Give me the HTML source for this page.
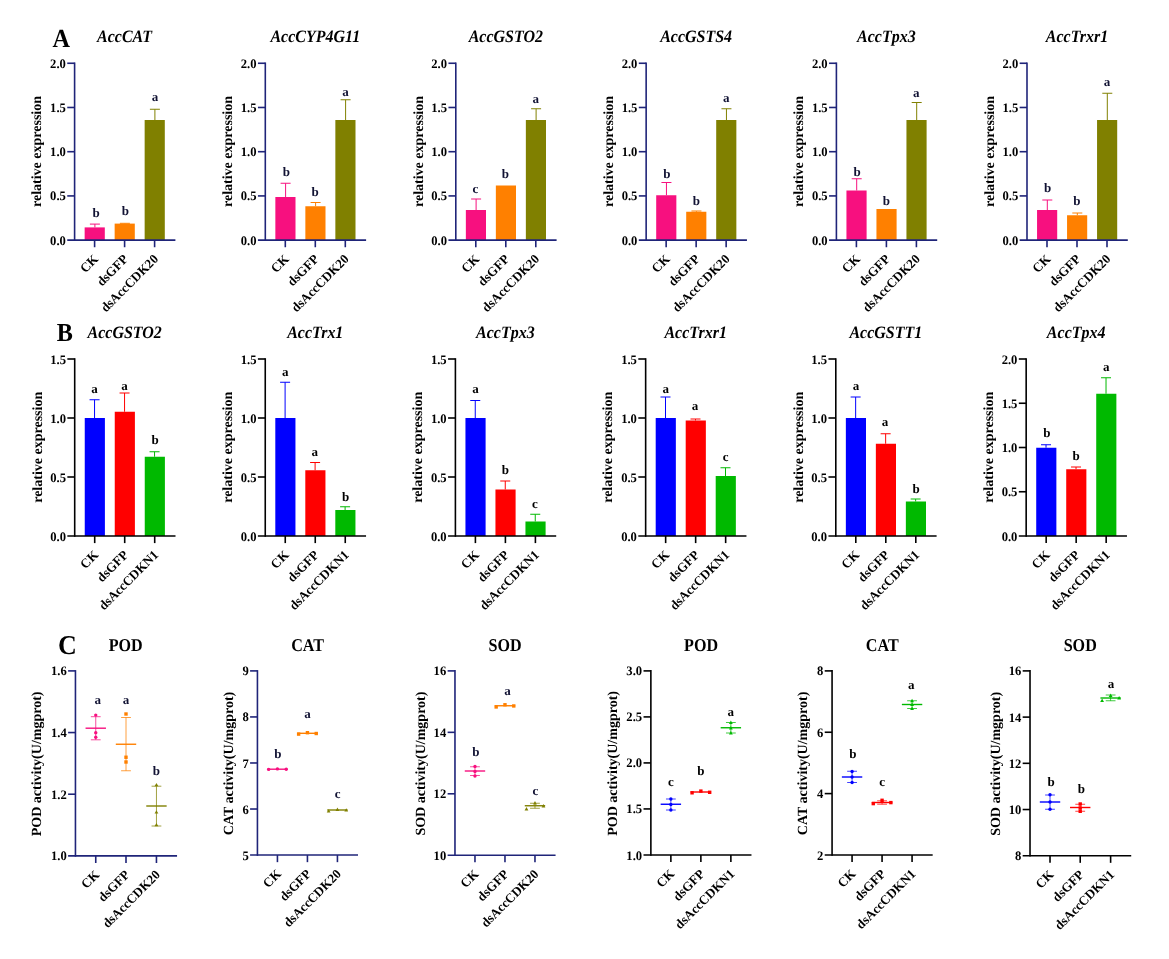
<!DOCTYPE html>
<html lang="en"><head><meta charset="utf-8"><title>Figure</title>
<style>
html,body{margin:0;padding:0;background:#fff;}
svg{display:block;will-change:transform;}
svg text{font-family:'Liberation Serif', 'Times New Roman', serif;font-weight:bold;text-rendering:geometricPrecision;}
</style></head><body>
<svg width="1169" height="959" viewBox="0 0 1169 959">
<rect width="1169" height="959" fill="#fff"/>
<rect x="84.65" y="227.40" width="20.15" height="12.74" fill="#f7107f"/>
<line x1="94.90" y1="224.10" x2="94.90" y2="227.40" stroke="#f7107f" stroke-width="1.0"/>
<line x1="89.90" y1="224.10" x2="99.90" y2="224.10" stroke="#f7107f" stroke-width="1.0"/>
<text transform="translate(96.00,217.00) scale(1,1)" font-size="13" text-anchor="middle" fill="#111233" >b</text>
<rect x="114.65" y="223.60" width="20.15" height="16.54" fill="#ff8000"/>
<line x1="124.90" y1="223.30" x2="124.90" y2="223.60" stroke="#ff8000" stroke-width="1.0"/>
<line x1="119.90" y1="223.30" x2="129.90" y2="223.30" stroke="#ff8000" stroke-width="1.0"/>
<text transform="translate(125.40,215.00) scale(1,1)" font-size="13" text-anchor="middle" fill="#111233" >b</text>
<rect x="144.65" y="120.00" width="20.15" height="120.14" fill="#808000"/>
<line x1="154.90" y1="109.25" x2="154.90" y2="120.00" stroke="#808000" stroke-width="1.0"/>
<line x1="149.90" y1="109.25" x2="159.90" y2="109.25" stroke="#808000" stroke-width="1.0"/>
<text transform="translate(155.00,101.00) scale(1,1)" font-size="13" text-anchor="middle" fill="#111233" >a</text>
<line x1="74.60" y1="62.46" x2="74.60" y2="240.94" stroke="#1f2479" stroke-width="1.6"/>
<line x1="67.25" y1="240.14" x2="175.40" y2="240.14" stroke="#1f2479" stroke-width="1.6"/>
<text transform="translate(65.85,244.69) scale(0.97,1)" font-size="13" text-anchor="end" fill="#000" >0.0</text>
<line x1="67.25" y1="195.92" x2="74.60" y2="195.92" stroke="#1f2479" stroke-width="1.6"/>
<text transform="translate(65.85,200.47) scale(0.97,1)" font-size="13" text-anchor="end" fill="#000" >0.5</text>
<line x1="67.25" y1="151.70" x2="74.60" y2="151.70" stroke="#1f2479" stroke-width="1.6"/>
<text transform="translate(65.85,156.25) scale(0.97,1)" font-size="13" text-anchor="end" fill="#000" >1.0</text>
<line x1="67.25" y1="107.48" x2="74.60" y2="107.48" stroke="#1f2479" stroke-width="1.6"/>
<text transform="translate(65.85,112.03) scale(0.97,1)" font-size="13" text-anchor="end" fill="#000" >1.5</text>
<line x1="67.25" y1="63.26" x2="74.60" y2="63.26" stroke="#1f2479" stroke-width="1.6"/>
<text transform="translate(65.85,67.81) scale(0.97,1)" font-size="13" text-anchor="end" fill="#000" >2.0</text>
<line x1="94.60" y1="240.14" x2="94.60" y2="247.24" stroke="#1f2479" stroke-width="1.6"/>
<line x1="124.60" y1="240.14" x2="124.60" y2="247.24" stroke="#1f2479" stroke-width="1.6"/>
<line x1="154.60" y1="240.14" x2="154.60" y2="247.24" stroke="#1f2479" stroke-width="1.6"/>
<text transform="translate(99.00,259.74) rotate(-45)" font-size="13" text-anchor="end" fill="#000">CK</text>
<text transform="translate(129.00,259.74) rotate(-45)" font-size="13" text-anchor="end" fill="#000">dsGFP</text>
<text transform="translate(159.00,259.74) rotate(-45)" font-size="13" text-anchor="end" fill="#000">dsAccCDK20</text>
<text transform="translate(41.40,151.50) rotate(-90)" font-size="14" text-anchor="middle" fill="#000">relative expression</text>
<text transform="translate(124.60,42.00) scale(0.975,1.06)" font-size="16.4" text-anchor="middle" fill="#000" font-style="italic">AccCAT</text>
<rect x="275.35" y="197.00" width="20.15" height="43.14" fill="#f7107f"/>
<line x1="285.60" y1="183.25" x2="285.60" y2="197.00" stroke="#f7107f" stroke-width="1.0"/>
<line x1="280.60" y1="183.25" x2="290.60" y2="183.25" stroke="#f7107f" stroke-width="1.0"/>
<text transform="translate(286.40,175.75) scale(1,1)" font-size="13" text-anchor="middle" fill="#111233" >b</text>
<rect x="305.35" y="206.25" width="20.15" height="33.89" fill="#ff8000"/>
<line x1="315.60" y1="202.50" x2="315.60" y2="206.25" stroke="#ff8000" stroke-width="1.0"/>
<line x1="310.60" y1="202.50" x2="320.60" y2="202.50" stroke="#ff8000" stroke-width="1.0"/>
<text transform="translate(315.00,196.25) scale(1,1)" font-size="13" text-anchor="middle" fill="#111233" >b</text>
<rect x="335.35" y="120.00" width="20.15" height="120.14" fill="#808000"/>
<line x1="345.60" y1="99.75" x2="345.60" y2="120.00" stroke="#808000" stroke-width="1.0"/>
<line x1="340.60" y1="99.75" x2="350.60" y2="99.75" stroke="#808000" stroke-width="1.0"/>
<text transform="translate(345.40,96.25) scale(1,1)" font-size="13" text-anchor="middle" fill="#111233" >a</text>
<line x1="265.30" y1="62.46" x2="265.30" y2="240.94" stroke="#1f2479" stroke-width="1.6"/>
<line x1="257.95" y1="240.14" x2="366.10" y2="240.14" stroke="#1f2479" stroke-width="1.6"/>
<text transform="translate(256.55,244.69) scale(0.97,1)" font-size="13" text-anchor="end" fill="#000" >0.0</text>
<line x1="257.95" y1="195.92" x2="265.30" y2="195.92" stroke="#1f2479" stroke-width="1.6"/>
<text transform="translate(256.55,200.47) scale(0.97,1)" font-size="13" text-anchor="end" fill="#000" >0.5</text>
<line x1="257.95" y1="151.70" x2="265.30" y2="151.70" stroke="#1f2479" stroke-width="1.6"/>
<text transform="translate(256.55,156.25) scale(0.97,1)" font-size="13" text-anchor="end" fill="#000" >1.0</text>
<line x1="257.95" y1="107.48" x2="265.30" y2="107.48" stroke="#1f2479" stroke-width="1.6"/>
<text transform="translate(256.55,112.03) scale(0.97,1)" font-size="13" text-anchor="end" fill="#000" >1.5</text>
<line x1="257.95" y1="63.26" x2="265.30" y2="63.26" stroke="#1f2479" stroke-width="1.6"/>
<text transform="translate(256.55,67.81) scale(0.97,1)" font-size="13" text-anchor="end" fill="#000" >2.0</text>
<line x1="285.30" y1="240.14" x2="285.30" y2="247.24" stroke="#1f2479" stroke-width="1.6"/>
<line x1="315.30" y1="240.14" x2="315.30" y2="247.24" stroke="#1f2479" stroke-width="1.6"/>
<line x1="345.30" y1="240.14" x2="345.30" y2="247.24" stroke="#1f2479" stroke-width="1.6"/>
<text transform="translate(289.70,259.74) rotate(-45)" font-size="13" text-anchor="end" fill="#000">CK</text>
<text transform="translate(319.70,259.74) rotate(-45)" font-size="13" text-anchor="end" fill="#000">dsGFP</text>
<text transform="translate(349.70,259.74) rotate(-45)" font-size="13" text-anchor="end" fill="#000">dsAccCDK20</text>
<text transform="translate(232.10,151.50) rotate(-90)" font-size="14" text-anchor="middle" fill="#000">relative expression</text>
<text transform="translate(315.30,42.00) scale(0.975,1.06)" font-size="16.4" text-anchor="middle" fill="#000" font-style="italic">AccCYP4G11</text>
<rect x="465.85" y="210.00" width="20.15" height="30.14" fill="#f7107f"/>
<line x1="476.10" y1="199.00" x2="476.10" y2="210.00" stroke="#f7107f" stroke-width="1.0"/>
<line x1="471.10" y1="199.00" x2="481.10" y2="199.00" stroke="#f7107f" stroke-width="1.0"/>
<text transform="translate(475.50,192.50) scale(1,1)" font-size="13" text-anchor="middle" fill="#111233" >c</text>
<rect x="495.85" y="185.50" width="20.15" height="54.64" fill="#ff8000"/>
<text transform="translate(505.30,177.50) scale(1,1)" font-size="13" text-anchor="middle" fill="#111233" >b</text>
<rect x="525.85" y="120.00" width="20.15" height="120.14" fill="#808000"/>
<line x1="536.10" y1="108.75" x2="536.10" y2="120.00" stroke="#808000" stroke-width="1.0"/>
<line x1="531.10" y1="108.75" x2="541.10" y2="108.75" stroke="#808000" stroke-width="1.0"/>
<text transform="translate(535.80,103.25) scale(1,1)" font-size="13" text-anchor="middle" fill="#111233" >a</text>
<line x1="455.80" y1="62.46" x2="455.80" y2="240.94" stroke="#1f2479" stroke-width="1.6"/>
<line x1="448.45" y1="240.14" x2="556.60" y2="240.14" stroke="#1f2479" stroke-width="1.6"/>
<text transform="translate(447.05,244.69) scale(0.97,1)" font-size="13" text-anchor="end" fill="#000" >0.0</text>
<line x1="448.45" y1="195.92" x2="455.80" y2="195.92" stroke="#1f2479" stroke-width="1.6"/>
<text transform="translate(447.05,200.47) scale(0.97,1)" font-size="13" text-anchor="end" fill="#000" >0.5</text>
<line x1="448.45" y1="151.70" x2="455.80" y2="151.70" stroke="#1f2479" stroke-width="1.6"/>
<text transform="translate(447.05,156.25) scale(0.97,1)" font-size="13" text-anchor="end" fill="#000" >1.0</text>
<line x1="448.45" y1="107.48" x2="455.80" y2="107.48" stroke="#1f2479" stroke-width="1.6"/>
<text transform="translate(447.05,112.03) scale(0.97,1)" font-size="13" text-anchor="end" fill="#000" >1.5</text>
<line x1="448.45" y1="63.26" x2="455.80" y2="63.26" stroke="#1f2479" stroke-width="1.6"/>
<text transform="translate(447.05,67.81) scale(0.97,1)" font-size="13" text-anchor="end" fill="#000" >2.0</text>
<line x1="475.80" y1="240.14" x2="475.80" y2="247.24" stroke="#1f2479" stroke-width="1.6"/>
<line x1="505.80" y1="240.14" x2="505.80" y2="247.24" stroke="#1f2479" stroke-width="1.6"/>
<line x1="535.80" y1="240.14" x2="535.80" y2="247.24" stroke="#1f2479" stroke-width="1.6"/>
<text transform="translate(480.20,259.74) rotate(-45)" font-size="13" text-anchor="end" fill="#000">CK</text>
<text transform="translate(510.20,259.74) rotate(-45)" font-size="13" text-anchor="end" fill="#000">dsGFP</text>
<text transform="translate(540.20,259.74) rotate(-45)" font-size="13" text-anchor="end" fill="#000">dsAccCDK20</text>
<text transform="translate(422.60,151.50) rotate(-90)" font-size="14" text-anchor="middle" fill="#000">relative expression</text>
<text transform="translate(505.80,42.00) scale(0.975,1.06)" font-size="16.4" text-anchor="middle" fill="#000" font-style="italic">AccGSTO2</text>
<rect x="656.20" y="195.25" width="20.15" height="44.89" fill="#f7107f"/>
<line x1="666.45" y1="182.50" x2="666.45" y2="195.25" stroke="#f7107f" stroke-width="1.0"/>
<line x1="661.45" y1="182.50" x2="671.45" y2="182.50" stroke="#f7107f" stroke-width="1.0"/>
<text transform="translate(666.85,178.25) scale(1,1)" font-size="13" text-anchor="middle" fill="#111233" >b</text>
<rect x="686.20" y="211.75" width="20.15" height="28.39" fill="#ff8000"/>
<line x1="696.45" y1="211.00" x2="696.45" y2="211.75" stroke="#ff8000" stroke-width="1.0"/>
<line x1="691.45" y1="211.00" x2="701.45" y2="211.00" stroke="#ff8000" stroke-width="1.0"/>
<text transform="translate(696.25,204.50) scale(1,1)" font-size="13" text-anchor="middle" fill="#111233" >b</text>
<rect x="716.20" y="120.00" width="20.15" height="120.14" fill="#808000"/>
<line x1="726.45" y1="108.75" x2="726.45" y2="120.00" stroke="#808000" stroke-width="1.0"/>
<line x1="721.45" y1="108.75" x2="731.45" y2="108.75" stroke="#808000" stroke-width="1.0"/>
<text transform="translate(726.25,102.25) scale(1,1)" font-size="13" text-anchor="middle" fill="#111233" >a</text>
<line x1="646.15" y1="62.46" x2="646.15" y2="240.94" stroke="#1f2479" stroke-width="1.6"/>
<line x1="638.80" y1="240.14" x2="746.95" y2="240.14" stroke="#1f2479" stroke-width="1.6"/>
<text transform="translate(637.40,244.69) scale(0.97,1)" font-size="13" text-anchor="end" fill="#000" >0.0</text>
<line x1="638.80" y1="195.92" x2="646.15" y2="195.92" stroke="#1f2479" stroke-width="1.6"/>
<text transform="translate(637.40,200.47) scale(0.97,1)" font-size="13" text-anchor="end" fill="#000" >0.5</text>
<line x1="638.80" y1="151.70" x2="646.15" y2="151.70" stroke="#1f2479" stroke-width="1.6"/>
<text transform="translate(637.40,156.25) scale(0.97,1)" font-size="13" text-anchor="end" fill="#000" >1.0</text>
<line x1="638.80" y1="107.48" x2="646.15" y2="107.48" stroke="#1f2479" stroke-width="1.6"/>
<text transform="translate(637.40,112.03) scale(0.97,1)" font-size="13" text-anchor="end" fill="#000" >1.5</text>
<line x1="638.80" y1="63.26" x2="646.15" y2="63.26" stroke="#1f2479" stroke-width="1.6"/>
<text transform="translate(637.40,67.81) scale(0.97,1)" font-size="13" text-anchor="end" fill="#000" >2.0</text>
<line x1="666.15" y1="240.14" x2="666.15" y2="247.24" stroke="#1f2479" stroke-width="1.6"/>
<line x1="696.15" y1="240.14" x2="696.15" y2="247.24" stroke="#1f2479" stroke-width="1.6"/>
<line x1="726.15" y1="240.14" x2="726.15" y2="247.24" stroke="#1f2479" stroke-width="1.6"/>
<text transform="translate(670.55,259.74) rotate(-45)" font-size="13" text-anchor="end" fill="#000">CK</text>
<text transform="translate(700.55,259.74) rotate(-45)" font-size="13" text-anchor="end" fill="#000">dsGFP</text>
<text transform="translate(730.55,259.74) rotate(-45)" font-size="13" text-anchor="end" fill="#000">dsAccCDK20</text>
<text transform="translate(612.95,151.50) rotate(-90)" font-size="14" text-anchor="middle" fill="#000">relative expression</text>
<text transform="translate(696.15,42.00) scale(0.975,1.06)" font-size="16.4" text-anchor="middle" fill="#000" font-style="italic">AccGSTS4</text>
<rect x="846.45" y="190.50" width="20.15" height="49.64" fill="#f7107f"/>
<line x1="856.70" y1="178.75" x2="856.70" y2="190.50" stroke="#f7107f" stroke-width="1.0"/>
<line x1="851.70" y1="178.75" x2="861.70" y2="178.75" stroke="#f7107f" stroke-width="1.0"/>
<text transform="translate(857.10,175.50) scale(1,1)" font-size="13" text-anchor="middle" fill="#111233" >b</text>
<rect x="876.45" y="209.00" width="20.15" height="31.14" fill="#ff8000"/>
<text transform="translate(886.25,204.50) scale(1,1)" font-size="13" text-anchor="middle" fill="#111233" >b</text>
<rect x="906.45" y="120.00" width="20.15" height="120.14" fill="#808000"/>
<line x1="916.70" y1="102.50" x2="916.70" y2="120.00" stroke="#808000" stroke-width="1.0"/>
<line x1="911.70" y1="102.50" x2="921.70" y2="102.50" stroke="#808000" stroke-width="1.0"/>
<text transform="translate(916.25,96.50) scale(1,1)" font-size="13" text-anchor="middle" fill="#111233" >a</text>
<line x1="836.40" y1="62.46" x2="836.40" y2="240.94" stroke="#1f2479" stroke-width="1.6"/>
<line x1="829.05" y1="240.14" x2="937.20" y2="240.14" stroke="#1f2479" stroke-width="1.6"/>
<text transform="translate(827.65,244.69) scale(0.97,1)" font-size="13" text-anchor="end" fill="#000" >0.0</text>
<line x1="829.05" y1="195.92" x2="836.40" y2="195.92" stroke="#1f2479" stroke-width="1.6"/>
<text transform="translate(827.65,200.47) scale(0.97,1)" font-size="13" text-anchor="end" fill="#000" >0.5</text>
<line x1="829.05" y1="151.70" x2="836.40" y2="151.70" stroke="#1f2479" stroke-width="1.6"/>
<text transform="translate(827.65,156.25) scale(0.97,1)" font-size="13" text-anchor="end" fill="#000" >1.0</text>
<line x1="829.05" y1="107.48" x2="836.40" y2="107.48" stroke="#1f2479" stroke-width="1.6"/>
<text transform="translate(827.65,112.03) scale(0.97,1)" font-size="13" text-anchor="end" fill="#000" >1.5</text>
<line x1="829.05" y1="63.26" x2="836.40" y2="63.26" stroke="#1f2479" stroke-width="1.6"/>
<text transform="translate(827.65,67.81) scale(0.97,1)" font-size="13" text-anchor="end" fill="#000" >2.0</text>
<line x1="856.40" y1="240.14" x2="856.40" y2="247.24" stroke="#1f2479" stroke-width="1.6"/>
<line x1="886.40" y1="240.14" x2="886.40" y2="247.24" stroke="#1f2479" stroke-width="1.6"/>
<line x1="916.40" y1="240.14" x2="916.40" y2="247.24" stroke="#1f2479" stroke-width="1.6"/>
<text transform="translate(860.80,259.74) rotate(-45)" font-size="13" text-anchor="end" fill="#000">CK</text>
<text transform="translate(890.80,259.74) rotate(-45)" font-size="13" text-anchor="end" fill="#000">dsGFP</text>
<text transform="translate(920.80,259.74) rotate(-45)" font-size="13" text-anchor="end" fill="#000">dsAccCDK20</text>
<text transform="translate(803.20,151.50) rotate(-90)" font-size="14" text-anchor="middle" fill="#000">relative expression</text>
<text transform="translate(886.40,42.00) scale(0.975,1.06)" font-size="16.4" text-anchor="middle" fill="#000" font-style="italic">AccTpx3</text>
<rect x="1037.05" y="210.00" width="20.15" height="30.14" fill="#f7107f"/>
<line x1="1047.30" y1="200.00" x2="1047.30" y2="210.00" stroke="#f7107f" stroke-width="1.0"/>
<line x1="1042.30" y1="200.00" x2="1052.30" y2="200.00" stroke="#f7107f" stroke-width="1.0"/>
<text transform="translate(1047.60,192.00) scale(1,1)" font-size="13" text-anchor="middle" fill="#111233" >b</text>
<rect x="1067.05" y="215.25" width="20.15" height="24.89" fill="#ff8000"/>
<line x1="1077.30" y1="213.00" x2="1077.30" y2="215.25" stroke="#ff8000" stroke-width="1.0"/>
<line x1="1072.30" y1="213.00" x2="1082.30" y2="213.00" stroke="#ff8000" stroke-width="1.0"/>
<text transform="translate(1076.90,204.50) scale(1,1)" font-size="13" text-anchor="middle" fill="#111233" >b</text>
<rect x="1097.05" y="120.00" width="20.15" height="120.14" fill="#808000"/>
<line x1="1107.30" y1="93.25" x2="1107.30" y2="120.00" stroke="#808000" stroke-width="1.0"/>
<line x1="1102.30" y1="93.25" x2="1112.30" y2="93.25" stroke="#808000" stroke-width="1.0"/>
<text transform="translate(1106.90,85.50) scale(1,1)" font-size="13" text-anchor="middle" fill="#111233" >a</text>
<line x1="1027.00" y1="62.46" x2="1027.00" y2="240.94" stroke="#1f2479" stroke-width="1.6"/>
<line x1="1019.65" y1="240.14" x2="1127.80" y2="240.14" stroke="#1f2479" stroke-width="1.6"/>
<text transform="translate(1018.25,244.69) scale(0.97,1)" font-size="13" text-anchor="end" fill="#000" >0.0</text>
<line x1="1019.65" y1="195.92" x2="1027.00" y2="195.92" stroke="#1f2479" stroke-width="1.6"/>
<text transform="translate(1018.25,200.47) scale(0.97,1)" font-size="13" text-anchor="end" fill="#000" >0.5</text>
<line x1="1019.65" y1="151.70" x2="1027.00" y2="151.70" stroke="#1f2479" stroke-width="1.6"/>
<text transform="translate(1018.25,156.25) scale(0.97,1)" font-size="13" text-anchor="end" fill="#000" >1.0</text>
<line x1="1019.65" y1="107.48" x2="1027.00" y2="107.48" stroke="#1f2479" stroke-width="1.6"/>
<text transform="translate(1018.25,112.03) scale(0.97,1)" font-size="13" text-anchor="end" fill="#000" >1.5</text>
<line x1="1019.65" y1="63.26" x2="1027.00" y2="63.26" stroke="#1f2479" stroke-width="1.6"/>
<text transform="translate(1018.25,67.81) scale(0.97,1)" font-size="13" text-anchor="end" fill="#000" >2.0</text>
<line x1="1047.00" y1="240.14" x2="1047.00" y2="247.24" stroke="#1f2479" stroke-width="1.6"/>
<line x1="1077.00" y1="240.14" x2="1077.00" y2="247.24" stroke="#1f2479" stroke-width="1.6"/>
<line x1="1107.00" y1="240.14" x2="1107.00" y2="247.24" stroke="#1f2479" stroke-width="1.6"/>
<text transform="translate(1051.40,259.74) rotate(-45)" font-size="13" text-anchor="end" fill="#000">CK</text>
<text transform="translate(1081.40,259.74) rotate(-45)" font-size="13" text-anchor="end" fill="#000">dsGFP</text>
<text transform="translate(1111.40,259.74) rotate(-45)" font-size="13" text-anchor="end" fill="#000">dsAccCDK20</text>
<text transform="translate(993.80,151.50) rotate(-90)" font-size="14" text-anchor="middle" fill="#000">relative expression</text>
<text transform="translate(1077.00,42.00) scale(0.975,1.06)" font-size="16.4" text-anchor="middle" fill="#000" font-style="italic">AccTrxr1</text>
<text transform="translate(52.50,47.30) scale(0.93,1.0)" font-size="26" text-anchor="start" fill="#000" >A</text>
<rect x="84.75" y="418.00" width="20.15" height="118.00" fill="#0000ff"/>
<line x1="94.55" y1="399.75" x2="94.55" y2="418.00" stroke="#0000ff" stroke-width="1.0"/>
<line x1="89.55" y1="399.75" x2="99.55" y2="399.75" stroke="#0000ff" stroke-width="1.0"/>
<text transform="translate(94.60,393.00) scale(1,1)" font-size="13" text-anchor="middle" fill="#000000" >a</text>
<rect x="114.75" y="411.75" width="20.15" height="124.25" fill="#ff0000"/>
<line x1="124.55" y1="393.00" x2="124.55" y2="411.75" stroke="#ff0000" stroke-width="1.0"/>
<line x1="119.55" y1="393.00" x2="129.55" y2="393.00" stroke="#ff0000" stroke-width="1.0"/>
<text transform="translate(124.60,390.00) scale(1,1)" font-size="13" text-anchor="middle" fill="#000000" >a</text>
<rect x="144.75" y="456.75" width="20.15" height="79.25" fill="#00b900"/>
<line x1="154.55" y1="451.75" x2="154.55" y2="456.75" stroke="#00b900" stroke-width="1.0"/>
<line x1="149.55" y1="451.75" x2="159.55" y2="451.75" stroke="#00b900" stroke-width="1.0"/>
<text transform="translate(155.20,444.25) scale(1,1)" font-size="13" text-anchor="middle" fill="#000000" >b</text>
<line x1="74.70" y1="358.20" x2="74.70" y2="536.80" stroke="#000000" stroke-width="1.6"/>
<line x1="67.35" y1="536.00" x2="175.50" y2="536.00" stroke="#000000" stroke-width="1.6"/>
<text transform="translate(65.95,540.55) scale(0.97,1)" font-size="13" text-anchor="end" fill="#000" >0.0</text>
<line x1="67.35" y1="477.00" x2="74.70" y2="477.00" stroke="#000000" stroke-width="1.6"/>
<text transform="translate(65.95,481.55) scale(0.97,1)" font-size="13" text-anchor="end" fill="#000" >0.5</text>
<line x1="67.35" y1="418.00" x2="74.70" y2="418.00" stroke="#000000" stroke-width="1.6"/>
<text transform="translate(65.95,422.55) scale(0.97,1)" font-size="13" text-anchor="end" fill="#000" >1.0</text>
<line x1="67.35" y1="359.00" x2="74.70" y2="359.00" stroke="#000000" stroke-width="1.6"/>
<text transform="translate(65.95,363.55) scale(0.97,1)" font-size="13" text-anchor="end" fill="#000" >1.5</text>
<line x1="94.70" y1="536.00" x2="94.70" y2="543.10" stroke="#000000" stroke-width="1.6"/>
<line x1="124.70" y1="536.00" x2="124.70" y2="543.10" stroke="#000000" stroke-width="1.6"/>
<line x1="154.70" y1="536.00" x2="154.70" y2="543.10" stroke="#000000" stroke-width="1.6"/>
<text transform="translate(99.10,555.60) rotate(-45)" font-size="13" text-anchor="end" fill="#000">CK</text>
<text transform="translate(129.10,555.60) rotate(-45)" font-size="13" text-anchor="end" fill="#000">dsGFP</text>
<text transform="translate(159.10,555.60) rotate(-45)" font-size="13" text-anchor="end" fill="#000">dsAccCDKN1</text>
<text transform="translate(41.50,447.30) rotate(-90)" font-size="14" text-anchor="middle" fill="#000">relative expression</text>
<text transform="translate(124.70,338.00) scale(0.975,1.06)" font-size="16.4" text-anchor="middle" fill="#000" font-style="italic">AccGSTO2</text>
<rect x="275.30" y="418.00" width="20.15" height="118.00" fill="#0000ff"/>
<line x1="285.10" y1="382.25" x2="285.10" y2="418.00" stroke="#0000ff" stroke-width="1.0"/>
<line x1="280.10" y1="382.25" x2="290.10" y2="382.25" stroke="#0000ff" stroke-width="1.0"/>
<text transform="translate(285.15,375.50) scale(1,1)" font-size="13" text-anchor="middle" fill="#000000" >a</text>
<rect x="305.30" y="470.25" width="20.15" height="65.75" fill="#ff0000"/>
<line x1="315.10" y1="462.50" x2="315.10" y2="470.25" stroke="#ff0000" stroke-width="1.0"/>
<line x1="310.10" y1="462.50" x2="320.10" y2="462.50" stroke="#ff0000" stroke-width="1.0"/>
<text transform="translate(314.65,456.25) scale(1,1)" font-size="13" text-anchor="middle" fill="#000000" >a</text>
<rect x="335.30" y="510.00" width="20.15" height="26.00" fill="#00b900"/>
<line x1="345.10" y1="506.75" x2="345.10" y2="510.00" stroke="#00b900" stroke-width="1.0"/>
<line x1="340.10" y1="506.75" x2="350.10" y2="506.75" stroke="#00b900" stroke-width="1.0"/>
<text transform="translate(345.65,500.50) scale(1,1)" font-size="13" text-anchor="middle" fill="#000000" >b</text>
<line x1="265.25" y1="358.20" x2="265.25" y2="536.80" stroke="#000000" stroke-width="1.6"/>
<line x1="257.90" y1="536.00" x2="366.05" y2="536.00" stroke="#000000" stroke-width="1.6"/>
<text transform="translate(256.50,540.55) scale(0.97,1)" font-size="13" text-anchor="end" fill="#000" >0.0</text>
<line x1="257.90" y1="477.00" x2="265.25" y2="477.00" stroke="#000000" stroke-width="1.6"/>
<text transform="translate(256.50,481.55) scale(0.97,1)" font-size="13" text-anchor="end" fill="#000" >0.5</text>
<line x1="257.90" y1="418.00" x2="265.25" y2="418.00" stroke="#000000" stroke-width="1.6"/>
<text transform="translate(256.50,422.55) scale(0.97,1)" font-size="13" text-anchor="end" fill="#000" >1.0</text>
<line x1="257.90" y1="359.00" x2="265.25" y2="359.00" stroke="#000000" stroke-width="1.6"/>
<text transform="translate(256.50,363.55) scale(0.97,1)" font-size="13" text-anchor="end" fill="#000" >1.5</text>
<line x1="285.25" y1="536.00" x2="285.25" y2="543.10" stroke="#000000" stroke-width="1.6"/>
<line x1="315.25" y1="536.00" x2="315.25" y2="543.10" stroke="#000000" stroke-width="1.6"/>
<line x1="345.25" y1="536.00" x2="345.25" y2="543.10" stroke="#000000" stroke-width="1.6"/>
<text transform="translate(289.65,555.60) rotate(-45)" font-size="13" text-anchor="end" fill="#000">CK</text>
<text transform="translate(319.65,555.60) rotate(-45)" font-size="13" text-anchor="end" fill="#000">dsGFP</text>
<text transform="translate(349.65,555.60) rotate(-45)" font-size="13" text-anchor="end" fill="#000">dsAccCDKN1</text>
<text transform="translate(232.05,447.30) rotate(-90)" font-size="14" text-anchor="middle" fill="#000">relative expression</text>
<text transform="translate(315.25,338.00) scale(0.975,1.06)" font-size="16.4" text-anchor="middle" fill="#000" font-style="italic">AccTrx1</text>
<rect x="465.45" y="418.00" width="20.15" height="118.00" fill="#0000ff"/>
<line x1="475.25" y1="400.50" x2="475.25" y2="418.00" stroke="#0000ff" stroke-width="1.0"/>
<line x1="470.25" y1="400.50" x2="480.25" y2="400.50" stroke="#0000ff" stroke-width="1.0"/>
<text transform="translate(475.40,393.00) scale(1,1)" font-size="13" text-anchor="middle" fill="#000000" >a</text>
<rect x="495.45" y="489.50" width="20.15" height="46.50" fill="#ff0000"/>
<line x1="505.25" y1="481.00" x2="505.25" y2="489.50" stroke="#ff0000" stroke-width="1.0"/>
<line x1="500.25" y1="481.00" x2="510.25" y2="481.00" stroke="#ff0000" stroke-width="1.0"/>
<text transform="translate(505.25,473.50) scale(1,1)" font-size="13" text-anchor="middle" fill="#000000" >b</text>
<rect x="525.45" y="521.50" width="20.15" height="14.50" fill="#00b900"/>
<line x1="535.25" y1="514.25" x2="535.25" y2="521.50" stroke="#00b900" stroke-width="1.0"/>
<line x1="530.25" y1="514.25" x2="540.25" y2="514.25" stroke="#00b900" stroke-width="1.0"/>
<text transform="translate(535.00,507.50) scale(1,1)" font-size="13" text-anchor="middle" fill="#000000" >c</text>
<line x1="455.40" y1="358.20" x2="455.40" y2="536.80" stroke="#000000" stroke-width="1.6"/>
<line x1="448.05" y1="536.00" x2="556.20" y2="536.00" stroke="#000000" stroke-width="1.6"/>
<text transform="translate(446.65,540.55) scale(0.97,1)" font-size="13" text-anchor="end" fill="#000" >0.0</text>
<line x1="448.05" y1="477.00" x2="455.40" y2="477.00" stroke="#000000" stroke-width="1.6"/>
<text transform="translate(446.65,481.55) scale(0.97,1)" font-size="13" text-anchor="end" fill="#000" >0.5</text>
<line x1="448.05" y1="418.00" x2="455.40" y2="418.00" stroke="#000000" stroke-width="1.6"/>
<text transform="translate(446.65,422.55) scale(0.97,1)" font-size="13" text-anchor="end" fill="#000" >1.0</text>
<line x1="448.05" y1="359.00" x2="455.40" y2="359.00" stroke="#000000" stroke-width="1.6"/>
<text transform="translate(446.65,363.55) scale(0.97,1)" font-size="13" text-anchor="end" fill="#000" >1.5</text>
<line x1="475.40" y1="536.00" x2="475.40" y2="543.10" stroke="#000000" stroke-width="1.6"/>
<line x1="505.40" y1="536.00" x2="505.40" y2="543.10" stroke="#000000" stroke-width="1.6"/>
<line x1="535.40" y1="536.00" x2="535.40" y2="543.10" stroke="#000000" stroke-width="1.6"/>
<text transform="translate(479.80,555.60) rotate(-45)" font-size="13" text-anchor="end" fill="#000">CK</text>
<text transform="translate(509.80,555.60) rotate(-45)" font-size="13" text-anchor="end" fill="#000">dsGFP</text>
<text transform="translate(539.80,555.60) rotate(-45)" font-size="13" text-anchor="end" fill="#000">dsAccCDKN1</text>
<text transform="translate(422.20,447.30) rotate(-90)" font-size="14" text-anchor="middle" fill="#000">relative expression</text>
<text transform="translate(505.40,338.00) scale(0.975,1.06)" font-size="16.4" text-anchor="middle" fill="#000" font-style="italic">AccTpx3</text>
<rect x="655.70" y="418.00" width="20.15" height="118.00" fill="#0000ff"/>
<line x1="665.50" y1="397.00" x2="665.50" y2="418.00" stroke="#0000ff" stroke-width="1.0"/>
<line x1="660.50" y1="397.00" x2="670.50" y2="397.00" stroke="#0000ff" stroke-width="1.0"/>
<text transform="translate(665.85,392.50) scale(1,1)" font-size="13" text-anchor="middle" fill="#000000" >a</text>
<rect x="685.70" y="420.50" width="20.15" height="115.50" fill="#ff0000"/>
<line x1="695.50" y1="419.00" x2="695.50" y2="420.50" stroke="#ff0000" stroke-width="1.0"/>
<line x1="690.50" y1="419.00" x2="700.50" y2="419.00" stroke="#ff0000" stroke-width="1.0"/>
<text transform="translate(695.00,410.00) scale(1,1)" font-size="13" text-anchor="middle" fill="#000000" >a</text>
<rect x="715.70" y="476.00" width="20.15" height="60.00" fill="#00b900"/>
<line x1="725.50" y1="467.75" x2="725.50" y2="476.00" stroke="#00b900" stroke-width="1.0"/>
<line x1="720.50" y1="467.75" x2="730.50" y2="467.75" stroke="#00b900" stroke-width="1.0"/>
<text transform="translate(725.65,460.50) scale(1,1)" font-size="13" text-anchor="middle" fill="#000000" >c</text>
<line x1="645.65" y1="358.20" x2="645.65" y2="536.80" stroke="#000000" stroke-width="1.6"/>
<line x1="638.30" y1="536.00" x2="746.45" y2="536.00" stroke="#000000" stroke-width="1.6"/>
<text transform="translate(636.90,540.55) scale(0.97,1)" font-size="13" text-anchor="end" fill="#000" >0.0</text>
<line x1="638.30" y1="477.00" x2="645.65" y2="477.00" stroke="#000000" stroke-width="1.6"/>
<text transform="translate(636.90,481.55) scale(0.97,1)" font-size="13" text-anchor="end" fill="#000" >0.5</text>
<line x1="638.30" y1="418.00" x2="645.65" y2="418.00" stroke="#000000" stroke-width="1.6"/>
<text transform="translate(636.90,422.55) scale(0.97,1)" font-size="13" text-anchor="end" fill="#000" >1.0</text>
<line x1="638.30" y1="359.00" x2="645.65" y2="359.00" stroke="#000000" stroke-width="1.6"/>
<text transform="translate(636.90,363.55) scale(0.97,1)" font-size="13" text-anchor="end" fill="#000" >1.5</text>
<line x1="665.65" y1="536.00" x2="665.65" y2="543.10" stroke="#000000" stroke-width="1.6"/>
<line x1="695.65" y1="536.00" x2="695.65" y2="543.10" stroke="#000000" stroke-width="1.6"/>
<line x1="725.65" y1="536.00" x2="725.65" y2="543.10" stroke="#000000" stroke-width="1.6"/>
<text transform="translate(670.05,555.60) rotate(-45)" font-size="13" text-anchor="end" fill="#000">CK</text>
<text transform="translate(700.05,555.60) rotate(-45)" font-size="13" text-anchor="end" fill="#000">dsGFP</text>
<text transform="translate(730.05,555.60) rotate(-45)" font-size="13" text-anchor="end" fill="#000">dsAccCDKN1</text>
<text transform="translate(612.45,447.30) rotate(-90)" font-size="14" text-anchor="middle" fill="#000">relative expression</text>
<text transform="translate(695.65,338.00) scale(0.975,1.06)" font-size="16.4" text-anchor="middle" fill="#000" font-style="italic">AccTrxr1</text>
<rect x="845.85" y="418.00" width="20.15" height="118.00" fill="#0000ff"/>
<line x1="855.65" y1="397.00" x2="855.65" y2="418.00" stroke="#0000ff" stroke-width="1.0"/>
<line x1="850.65" y1="397.00" x2="860.65" y2="397.00" stroke="#0000ff" stroke-width="1.0"/>
<text transform="translate(855.90,390.00) scale(1,1)" font-size="13" text-anchor="middle" fill="#000000" >a</text>
<rect x="875.85" y="443.75" width="20.15" height="92.25" fill="#ff0000"/>
<line x1="885.65" y1="433.75" x2="885.65" y2="443.75" stroke="#ff0000" stroke-width="1.0"/>
<line x1="880.65" y1="433.75" x2="890.65" y2="433.75" stroke="#ff0000" stroke-width="1.0"/>
<text transform="translate(885.00,426.25) scale(1,1)" font-size="13" text-anchor="middle" fill="#000000" >a</text>
<rect x="905.85" y="501.50" width="20.15" height="34.50" fill="#00b900"/>
<line x1="915.65" y1="499.00" x2="915.65" y2="501.50" stroke="#00b900" stroke-width="1.0"/>
<line x1="910.65" y1="499.00" x2="920.65" y2="499.00" stroke="#00b900" stroke-width="1.0"/>
<text transform="translate(916.00,493.00) scale(1,1)" font-size="13" text-anchor="middle" fill="#000000" >b</text>
<line x1="835.80" y1="358.20" x2="835.80" y2="536.80" stroke="#000000" stroke-width="1.6"/>
<line x1="828.45" y1="536.00" x2="936.60" y2="536.00" stroke="#000000" stroke-width="1.6"/>
<text transform="translate(827.05,540.55) scale(0.97,1)" font-size="13" text-anchor="end" fill="#000" >0.0</text>
<line x1="828.45" y1="477.00" x2="835.80" y2="477.00" stroke="#000000" stroke-width="1.6"/>
<text transform="translate(827.05,481.55) scale(0.97,1)" font-size="13" text-anchor="end" fill="#000" >0.5</text>
<line x1="828.45" y1="418.00" x2="835.80" y2="418.00" stroke="#000000" stroke-width="1.6"/>
<text transform="translate(827.05,422.55) scale(0.97,1)" font-size="13" text-anchor="end" fill="#000" >1.0</text>
<line x1="828.45" y1="359.00" x2="835.80" y2="359.00" stroke="#000000" stroke-width="1.6"/>
<text transform="translate(827.05,363.55) scale(0.97,1)" font-size="13" text-anchor="end" fill="#000" >1.5</text>
<line x1="855.80" y1="536.00" x2="855.80" y2="543.10" stroke="#000000" stroke-width="1.6"/>
<line x1="885.80" y1="536.00" x2="885.80" y2="543.10" stroke="#000000" stroke-width="1.6"/>
<line x1="915.80" y1="536.00" x2="915.80" y2="543.10" stroke="#000000" stroke-width="1.6"/>
<text transform="translate(860.20,555.60) rotate(-45)" font-size="13" text-anchor="end" fill="#000">CK</text>
<text transform="translate(890.20,555.60) rotate(-45)" font-size="13" text-anchor="end" fill="#000">dsGFP</text>
<text transform="translate(920.20,555.60) rotate(-45)" font-size="13" text-anchor="end" fill="#000">dsAccCDKN1</text>
<text transform="translate(802.60,447.30) rotate(-90)" font-size="14" text-anchor="middle" fill="#000">relative expression</text>
<text transform="translate(885.80,338.00) scale(0.975,1.06)" font-size="16.4" text-anchor="middle" fill="#000" font-style="italic">AccGSTT1</text>
<rect x="1036.22" y="447.75" width="20.15" height="88.25" fill="#0000ff"/>
<line x1="1046.02" y1="444.75" x2="1046.02" y2="447.75" stroke="#0000ff" stroke-width="1.0"/>
<line x1="1041.02" y1="444.75" x2="1051.02" y2="444.75" stroke="#0000ff" stroke-width="1.0"/>
<text transform="translate(1046.97,437.00) scale(1,1)" font-size="13" text-anchor="middle" fill="#000000" >b</text>
<rect x="1066.22" y="469.25" width="20.15" height="66.75" fill="#ff0000"/>
<line x1="1076.02" y1="467.00" x2="1076.02" y2="469.25" stroke="#ff0000" stroke-width="1.0"/>
<line x1="1071.02" y1="467.00" x2="1081.02" y2="467.00" stroke="#ff0000" stroke-width="1.0"/>
<text transform="translate(1076.17,459.75) scale(1,1)" font-size="13" text-anchor="middle" fill="#000000" >b</text>
<rect x="1096.22" y="393.75" width="20.15" height="142.25" fill="#00b900"/>
<line x1="1106.02" y1="377.75" x2="1106.02" y2="393.75" stroke="#00b900" stroke-width="1.0"/>
<line x1="1101.02" y1="377.75" x2="1111.02" y2="377.75" stroke="#00b900" stroke-width="1.0"/>
<text transform="translate(1106.17,370.50) scale(1,1)" font-size="13" text-anchor="middle" fill="#000000" >a</text>
<line x1="1026.17" y1="358.20" x2="1026.17" y2="536.80" stroke="#000000" stroke-width="1.6"/>
<line x1="1018.82" y1="536.00" x2="1126.97" y2="536.00" stroke="#000000" stroke-width="1.6"/>
<text transform="translate(1017.42,540.55) scale(0.97,1)" font-size="13" text-anchor="end" fill="#000" >0.0</text>
<line x1="1018.82" y1="491.75" x2="1026.17" y2="491.75" stroke="#000000" stroke-width="1.6"/>
<text transform="translate(1017.42,496.30) scale(0.97,1)" font-size="13" text-anchor="end" fill="#000" >0.5</text>
<line x1="1018.82" y1="447.50" x2="1026.17" y2="447.50" stroke="#000000" stroke-width="1.6"/>
<text transform="translate(1017.42,452.05) scale(0.97,1)" font-size="13" text-anchor="end" fill="#000" >1.0</text>
<line x1="1018.82" y1="403.25" x2="1026.17" y2="403.25" stroke="#000000" stroke-width="1.6"/>
<text transform="translate(1017.42,407.80) scale(0.97,1)" font-size="13" text-anchor="end" fill="#000" >1.5</text>
<line x1="1018.82" y1="359.00" x2="1026.17" y2="359.00" stroke="#000000" stroke-width="1.6"/>
<text transform="translate(1017.42,363.55) scale(0.97,1)" font-size="13" text-anchor="end" fill="#000" >2.0</text>
<line x1="1046.17" y1="536.00" x2="1046.17" y2="543.10" stroke="#000000" stroke-width="1.6"/>
<line x1="1076.17" y1="536.00" x2="1076.17" y2="543.10" stroke="#000000" stroke-width="1.6"/>
<line x1="1106.17" y1="536.00" x2="1106.17" y2="543.10" stroke="#000000" stroke-width="1.6"/>
<text transform="translate(1050.57,555.60) rotate(-45)" font-size="13" text-anchor="end" fill="#000">CK</text>
<text transform="translate(1080.57,555.60) rotate(-45)" font-size="13" text-anchor="end" fill="#000">dsGFP</text>
<text transform="translate(1110.57,555.60) rotate(-45)" font-size="13" text-anchor="end" fill="#000">dsAccCDKN1</text>
<text transform="translate(992.97,447.30) rotate(-90)" font-size="14" text-anchor="middle" fill="#000">relative expression</text>
<text transform="translate(1076.17,338.00) scale(0.975,1.06)" font-size="16.4" text-anchor="middle" fill="#000" font-style="italic">AccTpx4</text>
<text transform="translate(56.70,341.30) scale(0.93,1.0)" font-size="26" text-anchor="start" fill="#000" >B</text>
<line x1="85.55" y1="728.20" x2="105.95" y2="728.20" stroke="#f7107f" stroke-width="1.4"/>
<line x1="95.75" y1="716.70" x2="95.75" y2="739.80" stroke="#f7107f" stroke-width="0.75"/>
<line x1="90.85" y1="716.70" x2="100.65" y2="716.70" stroke="#f7107f" stroke-width="0.75"/>
<line x1="90.85" y1="739.80" x2="100.65" y2="739.80" stroke="#f7107f" stroke-width="0.75"/>
<circle cx="95.75" cy="715.10" r="1.7" fill="#f7107f"/>
<circle cx="95.75" cy="732.70" r="1.7" fill="#f7107f"/>
<circle cx="95.75" cy="737.20" r="1.7" fill="#f7107f"/>
<text transform="translate(97.85,703.85) scale(1,1)" font-size="13" text-anchor="middle" fill="#111233" >a</text>
<line x1="115.80" y1="744.25" x2="136.20" y2="744.25" stroke="#ff8000" stroke-width="1.4"/>
<line x1="126.00" y1="717.50" x2="126.00" y2="770.75" stroke="#ff8000" stroke-width="0.75"/>
<line x1="121.10" y1="717.50" x2="130.90" y2="717.50" stroke="#ff8000" stroke-width="0.75"/>
<line x1="121.10" y1="770.75" x2="130.90" y2="770.75" stroke="#ff8000" stroke-width="0.75"/>
<rect x="124.30" y="712.30" width="3.4" height="3.4" fill="#ff8000"/>
<rect x="124.30" y="755.55" width="3.4" height="3.4" fill="#ff8000"/>
<rect x="124.30" y="760.30" width="3.4" height="3.4" fill="#ff8000"/>
<text transform="translate(125.90,703.75) scale(1,1)" font-size="13" text-anchor="middle" fill="#111233" >a</text>
<line x1="146.25" y1="806.00" x2="166.65" y2="806.00" stroke="#808000" stroke-width="1.4"/>
<line x1="156.45" y1="786.20" x2="156.45" y2="826.00" stroke="#808000" stroke-width="0.75"/>
<line x1="151.55" y1="786.20" x2="161.35" y2="786.20" stroke="#808000" stroke-width="0.75"/>
<line x1="151.55" y1="826.00" x2="161.35" y2="826.00" stroke="#808000" stroke-width="0.75"/>
<path d="M156.45 782.90 L158.35 786.20 L154.55 786.20 Z" fill="#808000"/>
<path d="M156.45 810.30 L158.35 813.60 L154.55 813.60 Z" fill="#808000"/>
<path d="M156.45 822.90 L158.35 826.20 L154.55 826.20 Z" fill="#808000"/>
<text transform="translate(156.45,775.40) scale(1,1)" font-size="13" text-anchor="middle" fill="#111233" >b</text>
<line x1="75.45" y1="670.10" x2="75.45" y2="856.68" stroke="#1f2479" stroke-width="1.6"/>
<line x1="68.10" y1="855.88" x2="177.05" y2="855.88" stroke="#1f2479" stroke-width="1.6"/>
<text transform="translate(66.70,860.43) scale(0.97,1)" font-size="13" text-anchor="end" fill="#000" >1.0</text>
<line x1="68.10" y1="794.22" x2="75.45" y2="794.22" stroke="#1f2479" stroke-width="1.6"/>
<text transform="translate(66.70,798.77) scale(0.97,1)" font-size="13" text-anchor="end" fill="#000" >1.2</text>
<line x1="68.10" y1="732.56" x2="75.45" y2="732.56" stroke="#1f2479" stroke-width="1.6"/>
<text transform="translate(66.70,737.11) scale(0.97,1)" font-size="13" text-anchor="end" fill="#000" >1.4</text>
<line x1="68.10" y1="670.90" x2="75.45" y2="670.90" stroke="#1f2479" stroke-width="1.6"/>
<text transform="translate(66.70,675.45) scale(0.97,1)" font-size="13" text-anchor="end" fill="#000" >1.6</text>
<line x1="95.75" y1="855.88" x2="95.75" y2="862.98" stroke="#1f2479" stroke-width="1.6"/>
<line x1="126.00" y1="855.88" x2="126.00" y2="862.98" stroke="#1f2479" stroke-width="1.6"/>
<line x1="156.45" y1="855.88" x2="156.45" y2="862.98" stroke="#1f2479" stroke-width="1.6"/>
<text transform="translate(100.15,875.48) rotate(-45)" font-size="13" text-anchor="end" fill="#000">CK</text>
<text transform="translate(130.40,875.48) rotate(-45)" font-size="13" text-anchor="end" fill="#000">dsGFP</text>
<text transform="translate(160.85,875.48) rotate(-45)" font-size="13" text-anchor="end" fill="#000">dsAccCDK20</text>
<text transform="translate(41.30,763.89) rotate(-90)" font-size="14" text-anchor="middle" fill="#000">POD activity(U/mgprot)</text>
<text transform="translate(125.65,650.80) scale(0.96,1.07)" font-size="16.8" text-anchor="middle" fill="#000" >POD</text>
<line x1="267.23" y1="769.20" x2="287.63" y2="769.20" stroke="#f7107f" stroke-width="1.4"/>
<circle cx="268.63" cy="769.40" r="1.7" fill="#f7107f"/>
<circle cx="277.43" cy="768.90" r="1.7" fill="#f7107f"/>
<circle cx="286.23" cy="769.30" r="1.7" fill="#f7107f"/>
<text transform="translate(277.88,758.00) scale(1,1)" font-size="13" text-anchor="middle" fill="#111233" >b</text>
<line x1="297.23" y1="733.30" x2="317.63" y2="733.30" stroke="#ff8000" stroke-width="1.4"/>
<rect x="296.93" y="732.40" width="3.4" height="3.4" fill="#ff8000"/>
<rect x="305.73" y="731.00" width="3.4" height="3.4" fill="#ff8000"/>
<rect x="314.53" y="731.80" width="3.4" height="3.4" fill="#ff8000"/>
<text transform="translate(307.43,717.50) scale(1,1)" font-size="13" text-anchor="middle" fill="#111233" >a</text>
<line x1="327.23" y1="810.00" x2="347.63" y2="810.00" stroke="#808000" stroke-width="1.4"/>
<path d="M328.63 809.30 L330.53 812.60 L326.73 812.60 Z" fill="#808000"/>
<path d="M337.43 807.60 L339.33 810.90 L335.53 810.90 Z" fill="#808000"/>
<path d="M346.23 808.30 L348.13 811.60 L344.33 811.60 Z" fill="#808000"/>
<text transform="translate(337.73,798.00) scale(1,1)" font-size="13" text-anchor="middle" fill="#111233" >c</text>
<line x1="257.43" y1="670.10" x2="257.43" y2="855.86" stroke="#1f2479" stroke-width="1.6"/>
<line x1="250.08" y1="855.06" x2="358.03" y2="855.06" stroke="#1f2479" stroke-width="1.6"/>
<text transform="translate(248.68,859.61) scale(0.97,1)" font-size="13" text-anchor="end" fill="#000" >5</text>
<line x1="250.08" y1="809.02" x2="257.43" y2="809.02" stroke="#1f2479" stroke-width="1.6"/>
<text transform="translate(248.68,813.57) scale(0.97,1)" font-size="13" text-anchor="end" fill="#000" >6</text>
<line x1="250.08" y1="762.98" x2="257.43" y2="762.98" stroke="#1f2479" stroke-width="1.6"/>
<text transform="translate(248.68,767.53) scale(0.97,1)" font-size="13" text-anchor="end" fill="#000" >7</text>
<line x1="250.08" y1="716.94" x2="257.43" y2="716.94" stroke="#1f2479" stroke-width="1.6"/>
<text transform="translate(248.68,721.49) scale(0.97,1)" font-size="13" text-anchor="end" fill="#000" >8</text>
<line x1="250.08" y1="670.90" x2="257.43" y2="670.90" stroke="#1f2479" stroke-width="1.6"/>
<text transform="translate(248.68,675.45) scale(0.97,1)" font-size="13" text-anchor="end" fill="#000" >9</text>
<line x1="277.43" y1="855.06" x2="277.43" y2="862.16" stroke="#1f2479" stroke-width="1.6"/>
<line x1="307.43" y1="855.06" x2="307.43" y2="862.16" stroke="#1f2479" stroke-width="1.6"/>
<line x1="337.43" y1="855.06" x2="337.43" y2="862.16" stroke="#1f2479" stroke-width="1.6"/>
<text transform="translate(281.83,874.66) rotate(-45)" font-size="13" text-anchor="end" fill="#000">CK</text>
<text transform="translate(311.83,874.66) rotate(-45)" font-size="13" text-anchor="end" fill="#000">dsGFP</text>
<text transform="translate(341.83,874.66) rotate(-45)" font-size="13" text-anchor="end" fill="#000">dsAccCDK20</text>
<text transform="translate(233.00,763.48) rotate(-90)" font-size="14" text-anchor="middle" fill="#000">CAT activity(U/mgprot)</text>
<text transform="translate(307.63,650.80) scale(0.96,1.07)" font-size="16.8" text-anchor="middle" fill="#000" >CAT</text>
<line x1="464.77" y1="771.00" x2="485.17" y2="771.00" stroke="#f7107f" stroke-width="1.4"/>
<line x1="474.97" y1="766.75" x2="474.97" y2="775.50" stroke="#f7107f" stroke-width="0.75"/>
<line x1="470.07" y1="766.75" x2="479.87" y2="766.75" stroke="#f7107f" stroke-width="0.75"/>
<line x1="470.07" y1="775.50" x2="479.87" y2="775.50" stroke="#f7107f" stroke-width="0.75"/>
<circle cx="474.97" cy="766.50" r="1.7" fill="#f7107f"/>
<circle cx="474.97" cy="771.50" r="1.7" fill="#f7107f"/>
<circle cx="474.97" cy="776.00" r="1.7" fill="#f7107f"/>
<text transform="translate(475.87,756.25) scale(1,1)" font-size="13" text-anchor="middle" fill="#111233" >b</text>
<line x1="494.77" y1="705.75" x2="515.17" y2="705.75" stroke="#ff8000" stroke-width="1.4"/>
<rect x="494.47" y="705.25" width="3.4" height="3.4" fill="#ff8000"/>
<rect x="503.27" y="703.05" width="3.4" height="3.4" fill="#ff8000"/>
<rect x="512.07" y="704.25" width="3.4" height="3.4" fill="#ff8000"/>
<text transform="translate(507.62,695.00) scale(1,1)" font-size="13" text-anchor="middle" fill="#111233" >a</text>
<line x1="524.77" y1="805.75" x2="545.17" y2="805.75" stroke="#808000" stroke-width="1.4"/>
<line x1="534.97" y1="803.25" x2="534.97" y2="808.25" stroke="#808000" stroke-width="0.75"/>
<line x1="530.07" y1="803.25" x2="539.87" y2="803.25" stroke="#808000" stroke-width="0.75"/>
<line x1="530.07" y1="808.25" x2="539.87" y2="808.25" stroke="#808000" stroke-width="0.75"/>
<path d="M526.47 807.10 L528.37 810.40 L524.57 810.40 Z" fill="#808000"/>
<path d="M534.97 801.10 L536.87 804.40 L533.07 804.40 Z" fill="#808000"/>
<path d="M543.47 804.10 L545.37 807.40 L541.57 807.40 Z" fill="#808000"/>
<text transform="translate(535.37,795.00) scale(1,1)" font-size="13" text-anchor="middle" fill="#111233" >c</text>
<line x1="454.97" y1="670.10" x2="454.97" y2="856.03" stroke="#1f2479" stroke-width="1.6"/>
<line x1="447.62" y1="855.23" x2="555.57" y2="855.23" stroke="#1f2479" stroke-width="1.6"/>
<text transform="translate(446.22,859.78) scale(0.97,1)" font-size="13" text-anchor="end" fill="#000" >10</text>
<line x1="447.62" y1="793.79" x2="454.97" y2="793.79" stroke="#1f2479" stroke-width="1.6"/>
<text transform="translate(446.22,798.34) scale(0.97,1)" font-size="13" text-anchor="end" fill="#000" >12</text>
<line x1="447.62" y1="732.34" x2="454.97" y2="732.34" stroke="#1f2479" stroke-width="1.6"/>
<text transform="translate(446.22,736.89) scale(0.97,1)" font-size="13" text-anchor="end" fill="#000" >14</text>
<line x1="447.62" y1="670.90" x2="454.97" y2="670.90" stroke="#1f2479" stroke-width="1.6"/>
<text transform="translate(446.22,675.45) scale(0.97,1)" font-size="13" text-anchor="end" fill="#000" >16</text>
<line x1="474.97" y1="855.23" x2="474.97" y2="862.33" stroke="#1f2479" stroke-width="1.6"/>
<line x1="504.97" y1="855.23" x2="504.97" y2="862.33" stroke="#1f2479" stroke-width="1.6"/>
<line x1="534.97" y1="855.23" x2="534.97" y2="862.33" stroke="#1f2479" stroke-width="1.6"/>
<text transform="translate(479.37,874.83) rotate(-45)" font-size="13" text-anchor="end" fill="#000">CK</text>
<text transform="translate(509.37,874.83) rotate(-45)" font-size="13" text-anchor="end" fill="#000">dsGFP</text>
<text transform="translate(539.37,874.83) rotate(-45)" font-size="13" text-anchor="end" fill="#000">dsAccCDK20</text>
<text transform="translate(424.80,763.57) rotate(-90)" font-size="14" text-anchor="middle" fill="#000">SOD activity(U/mgprot)</text>
<text transform="translate(505.17,650.80) scale(0.96,1.07)" font-size="16.8" text-anchor="middle" fill="#000" >SOD</text>
<line x1="660.67" y1="804.25" x2="681.07" y2="804.25" stroke="#0000ff" stroke-width="1.4"/>
<line x1="670.87" y1="799.00" x2="670.87" y2="810.00" stroke="#0000ff" stroke-width="0.75"/>
<line x1="665.97" y1="799.00" x2="675.77" y2="799.00" stroke="#0000ff" stroke-width="0.75"/>
<line x1="665.97" y1="810.00" x2="675.77" y2="810.00" stroke="#0000ff" stroke-width="0.75"/>
<circle cx="670.87" cy="799.00" r="1.7" fill="#0000ff"/>
<circle cx="670.87" cy="804.50" r="1.7" fill="#0000ff"/>
<circle cx="670.87" cy="810.00" r="1.7" fill="#0000ff"/>
<text transform="translate(670.87,786.25) scale(1,1)" font-size="13" text-anchor="middle" fill="#000000" >c</text>
<line x1="690.67" y1="792.00" x2="711.07" y2="792.00" stroke="#ff0000" stroke-width="1.4"/>
<rect x="690.37" y="791.10" width="3.4" height="3.4" fill="#ff0000"/>
<rect x="699.17" y="789.40" width="3.4" height="3.4" fill="#ff0000"/>
<rect x="707.97" y="790.60" width="3.4" height="3.4" fill="#ff0000"/>
<text transform="translate(700.87,774.50) scale(1,1)" font-size="13" text-anchor="middle" fill="#000000" >b</text>
<line x1="720.67" y1="727.75" x2="741.07" y2="727.75" stroke="#00b900" stroke-width="1.4"/>
<line x1="730.87" y1="722.50" x2="730.87" y2="733.00" stroke="#00b900" stroke-width="0.75"/>
<line x1="725.97" y1="722.50" x2="735.77" y2="722.50" stroke="#00b900" stroke-width="0.75"/>
<line x1="725.97" y1="733.00" x2="735.77" y2="733.00" stroke="#00b900" stroke-width="0.75"/>
<path d="M730.87 720.60 L732.77 723.90 L728.97 723.90 Z" fill="#00b900"/>
<path d="M730.87 726.10 L732.77 729.40 L728.97 729.40 Z" fill="#00b900"/>
<path d="M730.87 731.10 L732.77 734.40 L728.97 734.40 Z" fill="#00b900"/>
<text transform="translate(730.87,715.75) scale(1,1)" font-size="13" text-anchor="middle" fill="#000000" >a</text>
<line x1="650.87" y1="670.10" x2="650.87" y2="855.75" stroke="#000000" stroke-width="1.6"/>
<line x1="643.52" y1="854.95" x2="751.47" y2="854.95" stroke="#000000" stroke-width="1.6"/>
<text transform="translate(642.12,859.50) scale(0.97,1)" font-size="13" text-anchor="end" fill="#000" >1.0</text>
<line x1="643.52" y1="808.94" x2="650.87" y2="808.94" stroke="#000000" stroke-width="1.6"/>
<text transform="translate(642.12,813.49) scale(0.97,1)" font-size="13" text-anchor="end" fill="#000" >1.5</text>
<line x1="643.52" y1="762.92" x2="650.87" y2="762.92" stroke="#000000" stroke-width="1.6"/>
<text transform="translate(642.12,767.47) scale(0.97,1)" font-size="13" text-anchor="end" fill="#000" >2.0</text>
<line x1="643.52" y1="716.91" x2="650.87" y2="716.91" stroke="#000000" stroke-width="1.6"/>
<text transform="translate(642.12,721.46) scale(0.97,1)" font-size="13" text-anchor="end" fill="#000" >2.5</text>
<line x1="643.52" y1="670.90" x2="650.87" y2="670.90" stroke="#000000" stroke-width="1.6"/>
<text transform="translate(642.12,675.45) scale(0.97,1)" font-size="13" text-anchor="end" fill="#000" >3.0</text>
<line x1="670.87" y1="854.95" x2="670.87" y2="862.05" stroke="#000000" stroke-width="1.6"/>
<line x1="700.87" y1="854.95" x2="700.87" y2="862.05" stroke="#000000" stroke-width="1.6"/>
<line x1="730.87" y1="854.95" x2="730.87" y2="862.05" stroke="#000000" stroke-width="1.6"/>
<text transform="translate(675.27,874.55) rotate(-45)" font-size="13" text-anchor="end" fill="#000">CK</text>
<text transform="translate(705.27,874.55) rotate(-45)" font-size="13" text-anchor="end" fill="#000">dsGFP</text>
<text transform="translate(735.27,874.55) rotate(-45)" font-size="13" text-anchor="end" fill="#000">dsAccCDKN1</text>
<text transform="translate(617.00,763.42) rotate(-90)" font-size="14" text-anchor="middle" fill="#000">POD activity(U/mgprot)</text>
<text transform="translate(701.07,650.80) scale(0.96,1.07)" font-size="16.8" text-anchor="middle" fill="#000" >POD</text>
<line x1="841.87" y1="777.00" x2="862.27" y2="777.00" stroke="#0000ff" stroke-width="1.4"/>
<line x1="852.07" y1="771.25" x2="852.07" y2="782.50" stroke="#0000ff" stroke-width="0.75"/>
<line x1="847.17" y1="771.25" x2="856.97" y2="771.25" stroke="#0000ff" stroke-width="0.75"/>
<line x1="847.17" y1="782.50" x2="856.97" y2="782.50" stroke="#0000ff" stroke-width="0.75"/>
<circle cx="852.07" cy="771.50" r="1.7" fill="#0000ff"/>
<circle cx="852.07" cy="777.00" r="1.7" fill="#0000ff"/>
<circle cx="852.07" cy="782.50" r="1.7" fill="#0000ff"/>
<text transform="translate(852.87,757.50) scale(1,1)" font-size="13" text-anchor="middle" fill="#000000" >b</text>
<line x1="871.87" y1="802.50" x2="892.27" y2="802.50" stroke="#ff0000" stroke-width="1.4"/>
<line x1="882.07" y1="800.80" x2="882.07" y2="804.20" stroke="#ff0000" stroke-width="0.75"/>
<line x1="877.17" y1="800.80" x2="886.97" y2="800.80" stroke="#ff0000" stroke-width="0.75"/>
<line x1="877.17" y1="804.20" x2="886.97" y2="804.20" stroke="#ff0000" stroke-width="0.75"/>
<rect x="871.57" y="801.90" width="3.4" height="3.4" fill="#ff0000"/>
<rect x="880.37" y="798.60" width="3.4" height="3.4" fill="#ff0000"/>
<rect x="889.17" y="800.90" width="3.4" height="3.4" fill="#ff0000"/>
<text transform="translate(882.07,786.25) scale(1,1)" font-size="13" text-anchor="middle" fill="#000000" >c</text>
<line x1="901.87" y1="704.50" x2="922.27" y2="704.50" stroke="#00b900" stroke-width="1.4"/>
<line x1="912.07" y1="700.75" x2="912.07" y2="708.50" stroke="#00b900" stroke-width="0.75"/>
<line x1="907.17" y1="700.75" x2="916.97" y2="700.75" stroke="#00b900" stroke-width="0.75"/>
<line x1="907.17" y1="708.50" x2="916.97" y2="708.50" stroke="#00b900" stroke-width="0.75"/>
<path d="M912.07 698.85 L913.97 702.15 L910.17 702.15 Z" fill="#00b900"/>
<path d="M912.07 702.60 L913.97 705.90 L910.17 705.90 Z" fill="#00b900"/>
<path d="M912.07 706.60 L913.97 709.90 L910.17 709.90 Z" fill="#00b900"/>
<text transform="translate(911.27,688.75) scale(1,1)" font-size="13" text-anchor="middle" fill="#000000" >a</text>
<line x1="832.07" y1="670.10" x2="832.07" y2="855.75" stroke="#000000" stroke-width="1.6"/>
<line x1="824.72" y1="854.95" x2="932.67" y2="854.95" stroke="#000000" stroke-width="1.6"/>
<text transform="translate(823.32,859.50) scale(0.97,1)" font-size="13" text-anchor="end" fill="#000" >2</text>
<line x1="824.72" y1="793.60" x2="832.07" y2="793.60" stroke="#000000" stroke-width="1.6"/>
<text transform="translate(823.32,798.15) scale(0.97,1)" font-size="13" text-anchor="end" fill="#000" >4</text>
<line x1="824.72" y1="732.25" x2="832.07" y2="732.25" stroke="#000000" stroke-width="1.6"/>
<text transform="translate(823.32,736.80) scale(0.97,1)" font-size="13" text-anchor="end" fill="#000" >6</text>
<line x1="824.72" y1="670.90" x2="832.07" y2="670.90" stroke="#000000" stroke-width="1.6"/>
<text transform="translate(823.32,675.45) scale(0.97,1)" font-size="13" text-anchor="end" fill="#000" >8</text>
<line x1="852.07" y1="854.95" x2="852.07" y2="862.05" stroke="#000000" stroke-width="1.6"/>
<line x1="882.07" y1="854.95" x2="882.07" y2="862.05" stroke="#000000" stroke-width="1.6"/>
<line x1="912.07" y1="854.95" x2="912.07" y2="862.05" stroke="#000000" stroke-width="1.6"/>
<text transform="translate(856.47,874.55) rotate(-45)" font-size="13" text-anchor="end" fill="#000">CK</text>
<text transform="translate(886.47,874.55) rotate(-45)" font-size="13" text-anchor="end" fill="#000">dsGFP</text>
<text transform="translate(916.47,874.55) rotate(-45)" font-size="13" text-anchor="end" fill="#000">dsAccCDKN1</text>
<text transform="translate(807.30,763.42) rotate(-90)" font-size="14" text-anchor="middle" fill="#000">CAT activity(U/mgprot)</text>
<text transform="translate(882.27,650.80) scale(0.96,1.07)" font-size="16.8" text-anchor="middle" fill="#000" >CAT</text>
<line x1="1039.82" y1="802.00" x2="1060.22" y2="802.00" stroke="#0000ff" stroke-width="1.4"/>
<line x1="1050.02" y1="795.00" x2="1050.02" y2="809.25" stroke="#0000ff" stroke-width="0.75"/>
<line x1="1045.12" y1="795.00" x2="1054.92" y2="795.00" stroke="#0000ff" stroke-width="0.75"/>
<line x1="1045.12" y1="809.25" x2="1054.92" y2="809.25" stroke="#0000ff" stroke-width="0.75"/>
<circle cx="1050.02" cy="794.80" r="1.7" fill="#0000ff"/>
<circle cx="1050.02" cy="802.00" r="1.7" fill="#0000ff"/>
<circle cx="1050.02" cy="809.30" r="1.7" fill="#0000ff"/>
<text transform="translate(1051.12,785.75) scale(1,1)" font-size="13" text-anchor="middle" fill="#000000" >b</text>
<line x1="1070.02" y1="807.50" x2="1090.42" y2="807.50" stroke="#ff0000" stroke-width="1.4"/>
<line x1="1080.22" y1="804.25" x2="1080.22" y2="811.25" stroke="#ff0000" stroke-width="0.75"/>
<line x1="1075.32" y1="804.25" x2="1085.12" y2="804.25" stroke="#ff0000" stroke-width="0.75"/>
<line x1="1075.32" y1="811.25" x2="1085.12" y2="811.25" stroke="#ff0000" stroke-width="0.75"/>
<rect x="1078.52" y="802.30" width="3.4" height="3.4" fill="#ff0000"/>
<rect x="1078.52" y="806.30" width="3.4" height="3.4" fill="#ff0000"/>
<rect x="1078.52" y="809.60" width="3.4" height="3.4" fill="#ff0000"/>
<text transform="translate(1081.32,792.50) scale(1,1)" font-size="13" text-anchor="middle" fill="#000000" >b</text>
<line x1="1100.42" y1="698.00" x2="1120.82" y2="698.00" stroke="#00b900" stroke-width="1.4"/>
<line x1="1110.62" y1="695.00" x2="1110.62" y2="700.75" stroke="#00b900" stroke-width="0.75"/>
<line x1="1105.72" y1="695.00" x2="1115.52" y2="695.00" stroke="#00b900" stroke-width="0.75"/>
<line x1="1105.72" y1="700.75" x2="1115.52" y2="700.75" stroke="#00b900" stroke-width="0.75"/>
<path d="M1102.12 698.60 L1104.02 701.90 L1100.22 701.90 Z" fill="#00b900"/>
<path d="M1110.62 693.60 L1112.52 696.90 L1108.72 696.90 Z" fill="#00b900"/>
<path d="M1119.12 696.10 L1121.02 699.40 L1117.22 699.40 Z" fill="#00b900"/>
<text transform="translate(1111.02,688.00) scale(1,1)" font-size="13" text-anchor="middle" fill="#000000" >a</text>
<line x1="1030.02" y1="670.10" x2="1030.02" y2="856.54" stroke="#000000" stroke-width="1.6"/>
<line x1="1022.67" y1="855.74" x2="1131.22" y2="855.74" stroke="#000000" stroke-width="1.6"/>
<text transform="translate(1021.27,860.29) scale(0.97,1)" font-size="13" text-anchor="end" fill="#000" >8</text>
<line x1="1022.67" y1="809.53" x2="1030.02" y2="809.53" stroke="#000000" stroke-width="1.6"/>
<text transform="translate(1021.27,814.08) scale(0.97,1)" font-size="13" text-anchor="end" fill="#000" >10</text>
<line x1="1022.67" y1="763.32" x2="1030.02" y2="763.32" stroke="#000000" stroke-width="1.6"/>
<text transform="translate(1021.27,767.87) scale(0.97,1)" font-size="13" text-anchor="end" fill="#000" >12</text>
<line x1="1022.67" y1="717.11" x2="1030.02" y2="717.11" stroke="#000000" stroke-width="1.6"/>
<text transform="translate(1021.27,721.66) scale(0.97,1)" font-size="13" text-anchor="end" fill="#000" >14</text>
<line x1="1022.67" y1="670.90" x2="1030.02" y2="670.90" stroke="#000000" stroke-width="1.6"/>
<text transform="translate(1021.27,675.45) scale(0.97,1)" font-size="13" text-anchor="end" fill="#000" >16</text>
<line x1="1050.02" y1="855.74" x2="1050.02" y2="862.84" stroke="#000000" stroke-width="1.6"/>
<line x1="1080.22" y1="855.74" x2="1080.22" y2="862.84" stroke="#000000" stroke-width="1.6"/>
<line x1="1110.62" y1="855.74" x2="1110.62" y2="862.84" stroke="#000000" stroke-width="1.6"/>
<text transform="translate(1054.42,875.34) rotate(-45)" font-size="13" text-anchor="end" fill="#000">CK</text>
<text transform="translate(1084.62,875.34) rotate(-45)" font-size="13" text-anchor="end" fill="#000">dsGFP</text>
<text transform="translate(1115.02,875.34) rotate(-45)" font-size="13" text-anchor="end" fill="#000">dsAccCDKN1</text>
<text transform="translate(999.60,763.82) rotate(-90)" font-size="14" text-anchor="middle" fill="#000">SOD activity(U/mgprot)</text>
<text transform="translate(1080.22,650.80) scale(0.96,1.07)" font-size="16.8" text-anchor="middle" fill="#000" >SOD</text>
<text transform="translate(58.00,654.30) scale(1.0,1.04)" font-size="26" text-anchor="start" fill="#000" >C</text>
</svg>
</body></html>
